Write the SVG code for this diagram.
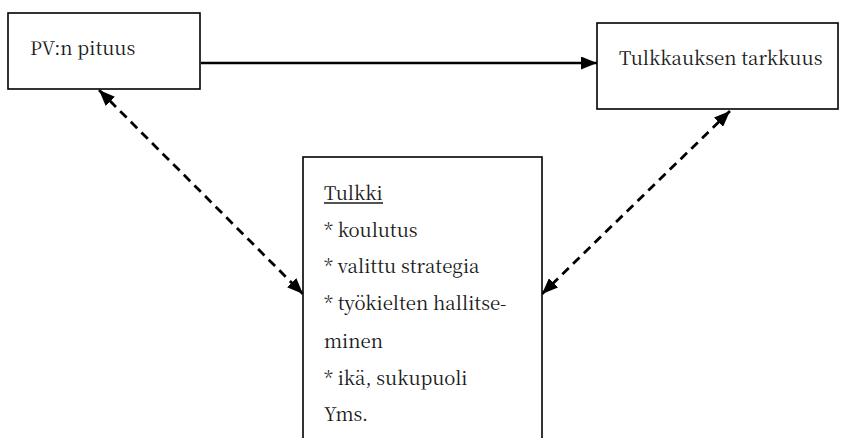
<svg xmlns="http://www.w3.org/2000/svg" width="843" height="438" viewBox="0 0 843 438">
  <style>
    .box { fill: #ffffff; stroke: #000000; stroke-width: 1.6; }
    .lbl { font-family: "Noto Serif CJK SC", "Liberation Serif", "DejaVu Serif", serif; font-size: 18.6px; fill: #1a1a1a; }
    .solid { fill: none; stroke: #000000; stroke-width: 2.5; }
    .dash { fill: none; stroke: #000000; stroke-width: 2.8; stroke-dasharray: 9 6; }
  </style>
  <defs>
    <marker id="head" viewBox="0 0 16 13" refX="16" refY="6.5" markerWidth="16" markerHeight="13" markerUnits="userSpaceOnUse" orient="auto-start-reverse">
      <path d="M0,0 L16,6.5 L0,13 Z" fill="#000000"/>
    </marker>
  </defs>
  <rect width="843" height="438" fill="#ffffff"/>

  <g id="connectors">
    <line class="solid" x1="201" y1="63" x2="597" y2="63" marker-end="url(#head)"/>
    <line class="dash" x1="99" y1="90" x2="303" y2="294" marker-start="url(#head)" marker-end="url(#head)"/>
    <line class="dash" x1="730" y1="111" x2="542" y2="294" marker-start="url(#head)" marker-end="url(#head)"/>
  </g>

  <g id="pv-pituus">
    <rect class="box" x="8" y="13" width="192" height="76"/>
    <text class="lbl" x="30" y="55">PV:n pituus</text>
  </g>

  <g id="tulkkauksen-tarkkuus">
    <rect class="box" x="597" y="23" width="241" height="86"/>
    <text class="lbl" x="619" y="65">Tulkkauksen tarkkuus</text>
  </g>

  <g id="tulkki">
    <rect class="box" x="303" y="157" width="239" height="300"/>
    <text class="lbl" x="324" y="200">Tulkki</text>
    <line x1="324" y1="203" x2="383" y2="203" stroke="#1a1a1a" stroke-width="1.3"/>
    <text class="lbl" x="324" y="237">* koulutus</text>
    <text class="lbl" x="324" y="273">* valittu strategia</text>
    <text class="lbl" x="324" y="310">* työkielten hallitse-</text>
    <text class="lbl" x="324" y="348">minen</text>
    <text class="lbl" x="324" y="385">* ikä, sukupuoli</text>
    <text class="lbl" x="324" y="421">Yms.</text>
  </g>
</svg>
